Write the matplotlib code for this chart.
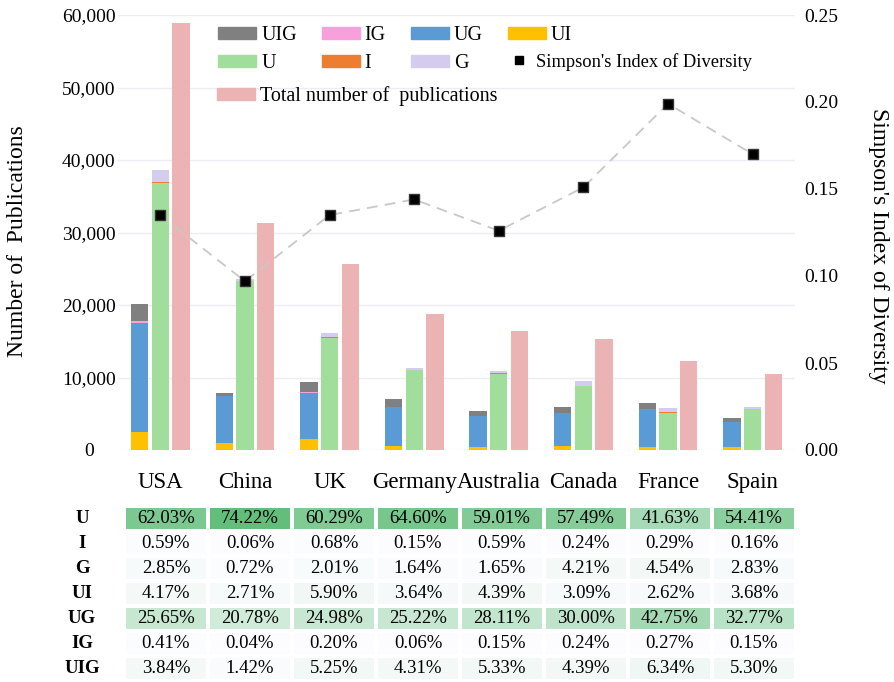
import numpy as np
import matplotlib
matplotlib.use("Agg")
import matplotlib.pyplot as plt
from matplotlib.colors import LinearSegmentedColormap, Normalize
from matplotlib.lines import Line2D
from matplotlib.patches import Patch

plt.rcParams["font.family"] = ["Liberation Serif", "DejaVu Serif"]

countries = ["USA", "China", "UK", "Germany", "Australia", "Canada", "France", "Spain"]

# Publication counts by collaboration type
UI  = [2520,  920, 1470,  560,  460,  550,  370,  460]
UG  = [15040, 6530, 6430, 5370, 4230, 4510, 5240, 3450]
IG  = [280,    20,   60,   20,   30,   40,   40,   20]
UIG = [2300,  350, 1380, 1020,  640,  780,  830,  550]
U   = [36780, 23310, 15490, 11030, 10480, 8830, 5150, 5660]
I   = [200,    20,  150,   40,   90,   40,   40,   20]
G   = [1650,  220,  550,  300,  380,  590,  600,  320]
total = [58850, 31350, 25650, 18710, 16410, 15270, 12280, 10440]

simpson = [0.135, 0.097, 0.135, 0.144, 0.126, 0.151, 0.199, 0.170]

# Share of each type (%) per country
row_labels = ["U", "I", "G", "UI", "UG", "IG", "UIG"]
pct_U   = [62.03, 74.22, 60.29, 64.60, 59.01, 57.49, 41.63, 54.41]
pct_I   = [0.59, 0.06, 0.68, 0.15, 0.59, 0.24, 0.29, 0.16]
pct_G   = [2.85, 0.72, 2.01, 1.64, 1.65, 4.21, 4.54, 2.83]
pct_UI  = [4.17, 2.71, 5.90, 3.64, 4.39, 3.09, 2.62, 3.68]
pct_UG  = [25.65, 20.78, 24.98, 25.22, 28.11, 30.00, 42.75, 32.77]
pct_IG  = [0.41, 0.04, 0.20, 0.06, 0.15, 0.24, 0.27, 0.15]
pct_UIG = [3.84, 1.42, 5.25, 4.31, 5.33, 4.39, 6.34, 5.30]

c_UIG, c_IG, c_UG, c_UI = "#808080", "#F8A0DC", "#5B9BD5", "#FFC000"
c_U, c_I, c_G, c_tot = "#A1DE9B", "#ED7D31", "#D4CCEF", "#ECB3B4"

W, H = 894, 682
fig = plt.figure(figsize=(W / 100, H / 100), dpi=100)

ax = fig.add_axes([118 / W, 1 - 450 / H, 677 / W, 435 / H])
x = np.arange(len(countries))
bw, off = 0.205, 0.245

# Stacked bar of mixed types
bottom = np.zeros(len(x))
for vals, col, lab in [(UI, c_UI, "UI"), (UG, c_UG, "UG"), (IG, c_IG, "IG"), (UIG, c_UIG, "UIG")]:
    ax.bar(x - off, vals, bw, bottom=bottom, color=col, label=lab)
    bottom += np.array(vals)

# Stacked bar of single types
bottom = np.zeros(len(x))
for vals, col, lab in [(U, c_U, "U"), (I, c_I, "I"), (G, c_G, "G")]:
    ax.bar(x, vals, bw, bottom=bottom, color=col, label=lab)
    bottom += np.array(vals)

ax.bar(x + off, total, bw, color=c_tot, label="Total number of  publications")

ax.set_xlim(-0.5, len(x) - 0.5)
ax.set_ylim(0, 60000)
ax.set_yticks(np.arange(0, 60001, 10000))
ax.set_yticklabels([f"{v:,}" for v in range(0, 60001, 10000)], fontsize=14)
for t in ax.get_yticklabels():
    t.set_ha("center")
ax.tick_params(axis="y", length=0, pad=21)
ax.set_xticks(x)
ax.set_xticklabels(countries, fontsize=16.5)
ax.tick_params(axis="x", length=0, pad=16)
ax.grid(axis="y", color="#ECECF4", linewidth=1.0)
ax.set_axisbelow(True)
for s in ax.spines.values():
    s.set_visible(False)

ax2 = ax.twinx()
ax2.plot(x, simpson, linestyle=(0, (6, 4)), color="#C8C8C8", linewidth=1.3,
         marker="s", markersize=6.5, markerfacecolor="black", markeredgecolor="#333333",
         label="Simpson's Index of Diversity")
ax2.set_ylim(0, 0.25)
ax2.set_yticks(np.arange(0, 0.2501, 0.05))
ax2.set_yticklabels([f"{v:.2f}" for v in np.arange(0, 0.2501, 0.05)], fontsize=14)
ax2.tick_params(axis="y", length=0, pad=7)
for s in ax2.spines.values():
    s.set_visible(False)

fig.text(18 / W, 1 - 241 / H, "Number of  Publications", rotation=90,
         ha="center", va="center", fontsize=17)
fig.text(878 / W, 1 - 246 / H, "Simpson's Index of Diversity", rotation=270,
         ha="center", va="center", fontsize=17)

# Legends
bar_handles = [Patch(color=c) for c in [c_UIG, c_U, c_IG, c_I, c_UG, c_G, c_UI]]
bar_labels = ["UIG", "U", "IG", "I", "UG", "G", "UI"]
leg1 = fig.legend(bar_handles, bar_labels, ncol=4, loc="upper left",
                  bbox_to_anchor=(218 / W, 1 - 26 / H), frameon=False, fontsize=14.5,
                  handlelength=1.89, handleheight=0.5, handletextpad=0.25,
                  columnspacing=1.24, labelspacing=0.45, borderpad=0, borderaxespad=0)
leg2 = fig.legend([Line2D([], [], linestyle="none", marker="s", markersize=6,
                          markerfacecolor="black", markeredgecolor="black")],
                  ["Simpson's Index of Diversity"], loc="center left",
                  bbox_to_anchor=(510 / W, 1 - 62 / H), frameon=False, fontsize=13.3,
                  handlelength=1.0, handletextpad=0.4, borderpad=0, borderaxespad=0)
leg3 = fig.legend([Patch(color=c_tot)], ["Total number of  publications"], loc="center left",
                  bbox_to_anchor=(217 / W, 1 - 96 / H), frameon=False, fontsize=14.5,
                  handlelength=1.89, handleheight=0.5, handletextpad=0.25,
                  borderpad=0, borderaxespad=0)

# Percentage table with a white-to-green colour scale
table = np.array([pct_U, pct_I, pct_G, pct_UI, pct_UG, pct_IG, pct_UIG])
cmap = LinearSegmentedColormap.from_list("wg", ["#FCFCFF", "#63BE7B"])
norm = Normalize(table.min(), table.max())
tax = fig.add_axes([124 / W, 1 - 681 / H, 672 / W, 175 / H])
tax.pcolormesh(np.arange(len(countries) + 1), np.arange(len(row_labels) + 1), table,
               cmap=cmap, norm=norm, edgecolors="white", linewidth=1.5)
tax.set_xlim(0, len(countries))
tax.set_ylim(len(row_labels), 0)
tax.axis("off")
for r in range(len(row_labels)):
    tax.text(-0.5, r + 0.5, row_labels[r], ha="center", va="center",
             fontsize=13.5, fontweight="bold")
    for c in range(len(countries)):
        tax.text(c + 0.5, r + 0.5, f"{table[r, c]:.2f}%", ha="center", va="center",
                 fontsize=13.5)

fig.savefig("out.png", dpi=100)
